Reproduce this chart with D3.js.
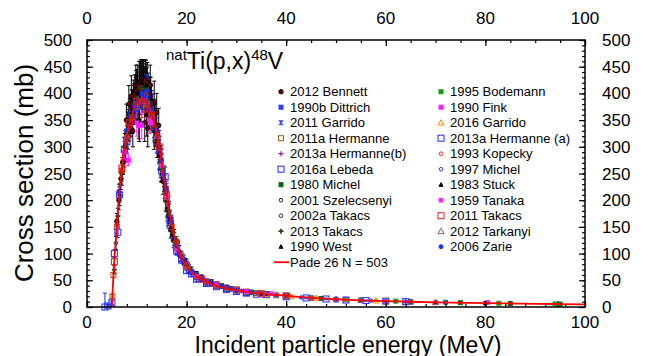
<!DOCTYPE html>
<html>
<head>
<meta charset="utf-8">
<title>natTi(p,x)48V</title>
<script src="https://cdnjs.cloudflare.com/ajax/libs/d3/7.8.5/d3.min.js"></script>
<style>
 body { margin: 0; background: #fff; }
 svg text { font-family: "Liberation Sans", Arial, sans-serif; fill: #000; }
</style>
</head>
<body>
<svg id="chart" width="653" height="356"></svg>
<script>
// ---- data: [energy MeV, cross section mb, error mb] ----
var bennett2012 = [[6.0,160,15],[6.4,200,18],[6.8,240,20],[7.2,270,22],[7.6,300,25],[7.9,350,30],[8.0,325,28],[8.3,340,30],[8.4,380,35],[8.6,360,30],[8.9,395,38],[9.0,375,32],[9.2,330,30],[9.3,390,35],[9.6,400,35],[9.8,415,38],[9.9,405,38],[10.2,415,38],[10.4,350,35],[10.5,420,40],[10.6,420,40],[10.8,425,38],[11.1,425,38],[11.3,425,38],[11.4,420,40],[11.6,345,35],[11.7,425,38],[12.0,410,38],[12.1,420,38],[12.2,335,35],[12.3,400,38],[12.6,395,36],[12.7,415,38],[12.9,380,35],[13.2,365,34],[13.5,385,38],[13.5,350,32],[13.8,330,30],[14.0,365,35],[14.1,310,30],[14.4,340,32],[14.5,285,28],[14.9,260,26],[15.3,235,24],[15.8,200,20],[16.3,170,18],[16.8,145,16],[17.4,125,14],[18.0,110,12],[18.8,95,10],[19.6,82,9],[25,44,4],[30,32,3],[40,21,2],[50,15,1.5],[60,11,1],[70,8.5,1],[80,7,0.8],[94.6,5.5,0.7]];
var dittrich1990b = [[18,110,10],[20,75,7],[22,57,6],[24,48,5],[26,42,4],[28,36,4],[30,31,3],[33,27,3],[36,24,3],[40,20,2],[45,17,2],[50,14,1.5]];
var garrido2011 = [[10,370,20],[12,400,20],[14,320,16],[16,205,10],[18,112,6],[20,75,4],[22,55,3],[25,43,2],[30,30,1.5],[35,23,1.2],[40,19,1],[45,16,1],[50,13,0.8],[55,12,1],[60,10,1],[65,9,0.8]];
var hermanne2011a = [[5.1,20,3],[5.3,60,5],[6,150,12],[7,255,20],[8,315,25],[9,355,28],[10,380,30],[11,385,30],[12,380,30],[13,355,28],[14,315,25],[15,260,20],[16,200,16],[17,150,12],[18,118,9],[19,95,8],[20,78,6],[22,58,5],[24,48,4],[26,41,3],[28,36,3],[30,32,3],[32,29,2.5],[34,26,2],[36,24,2],[38,22,2]];
var hermanne2013b = [[6.5,205,15],[8.5,340,25],[10.5,380,30],[12.5,370,30],[14.5,295,22],[16.5,180,14],[19,92,7],[23,52,4],[27,39,3],[31,30,2.5],[35,25,2],[40,21,2],[45,17,1.5],[50,14,1.2],[55,12.5,1],[60,11,1],[65,10,1]];
var lebeda2016a = [[3.6,0,26],[4.2,2,3],[5.5,100,8],[6.5,210,15],[7.5,295,22],[9,360,25],[10.5,390,28],[12,400,28],[13.5,340,25],[15,255,18],[16.5,165,12],[18,105,8],[20,68,5],[22,52,4],[24,44,3],[26,38,3],[28,33,3],[30,29,2],[32,26,2],[34,24,2]];
var michel1980 = [[12,410,40],[15,260,26],[18,120,12],[22,60,6],[27,40,4],[33,28,3],[40,21,2],[47,16,2],[55,13,1.5],[65,10,1],[75,8,1],[85,6.5,1],[95,5.5,0.8]];
var szelecsenyi2001 = [[6.5,210,20],[7.5,290,28],[8.5,345,34],[9.5,380,38],[10.5,400,40],[11.5,410,40],[12.5,385,38],[13.5,345,34],[14.5,300,30],[15.5,240,24],[16.5,180,18],[18,115,12],[20,78,8],[22,60,6],[25,45,5],[28,37,4],[32,29,3],[36,24,3],[40,21,2]];
var takacs2002a = [[5.8,120,12],[6.7,230,22],[7.7,300,30],[8.8,355,35],[9.8,390,40],[10.8,415,42],[11.8,420,42],[12.8,380,38],[13.8,335,33],[14.8,270,27],[16,205,20],[17,150,15],[18.5,105,10],[20.5,72,7],[23,54,5],[26,41,4],[30,32,3]];
var takacs2013 = [[5.5,70,8],[6.2,170,15],[7.0,250,22],[7.8,305,28],[8.6,350,32],[9.4,380,35],[10.0,395,38],[10.6,410,40],[11.2,405,40],[11.8,400,40],[12.4,385,38],[13.0,370,35],[13.6,340,32],[14.2,310,30],[14.8,275,28],[15.6,225,22],[16.4,175,18],[17.2,140,15],[18.2,112,12],[19.4,88,9],[21.0,68,7],[23.0,54,6],[26.0,42,5],[29.0,34,4]];
var west1990 = [[8.2,330,35],[9.1,365,40],[10.1,400,45],[11.0,420,40],[11.9,415,40],[12.8,390,40],[13.7,345,35],[14.6,290,30],[16.0,200,22],[17.5,130,15]];
var bodemann1995 = [[45,17,2],[52,14,1.5],[62,11,1.2],[72,9,1],[82.7,7,0.8],[94,5.8,0.7]];
var fink1990 = [[8.3,275,10],[10.3,340,12],[13,345,12],[16,205,8],[20,76,4],[60,11,1]];
var garrido2016 = [[20,76,5],[25,44,4],[30,31,3],[36,24,2],[41,20,2],[46,17,2],[52,14,1.5],[58,12,2],[64,10,1.5],[70,9,1.5]];
var hermanne2013a = [[5,8,3],[6.2,140,10],[8,310,22],[10,375,28],[12,385,28],[14,310,22],[15.7,244,18],[16.7,153,12],[19,88,6],[21,62,5],[24,45,3],[28,34,3],[32,27,2],[36,23,2],[40,19,2],[44,17,1.5],[48,15,1.5],[52,13,1],[56,12,1],[60,11,1],[64,10,1]];
var kopecky1993 = [[6,155,10],[7,255,15],[8,320,20],[9,355,22],[10,380,24],[11,385,24],[12,380,24],[13,360,22],[14,325,20],[15,270,18],[16,210,14],[17,155,10],[18,118,8],[19,92,6],[20,77,5],[22,58,4],[24,48,3],[26,41,3],[28,36,2],[30,32,2],[35,25,2],[40,21,1.5],[45,17,1.2]];
var michel1997 = [[10,380,30],[11.5,395,30],[13,355,25],[14.5,290,22],[16,215,16],[17.5,130,10],[19,95,8],[21,66,5],[23,52,4],[26,41,3],[29,34,3],[33,27,2],[38,22,2],[43,18,1.5],[50,14,1.2],[57,12,1],[64,10,1],[72,8.5,0.8]];
var stuck1983 = [[10.5,350,40],[12,360,40],[13.5,330,35],[15,265,30],[17,150,18],[20,80,10],[25,45,6],[30,32,4],[35,25,3]];
var tanaka1959 = [[7.5,290,20],[10.0,345,25],[11,340,25],[12.5,350,25],[15,265,20],[18,110,10],[22,58,5],[26,42,4],[32,29,3],[37,25,2.5],[80.5,8.5,1]];
var takacs2011 = [[5.5,85,8],[7,260,20],[8.5,345,28],[10,385,30],[11.5,395,30],[13,360,28],[14.5,300,24],[16,210,16],[18,118,9],[20,78,6],[23,52,4],[26,41,3],[30,32,3],[35,25,2],[40,21,2]];
var tarkanyi2012 = [[6,150,12],[8,320,25],[10,375,30],[12,385,30],[14,320,25],[16,205,16],[18,115,9],[20,76,6],[23,52,4],[26,42,3],[30,32,3],[35,25,2],[40,21,2],[45,17,1.5],[50,14.5,1.2],[55,13,1.2],[60,11,1],[65,10,1],[70,9,1]];
var zarie2006 = [[6.5,215,15],[8,330,20],[9.5,375,25],[11,400,30],[12,405,30],[13,370,28],[14,330,25],[15,275,20],[16,220,16],[17,160,12],[18,115,9],[19.5,85,7],[21,65,5],[23,51,4],[25,44,3],[27,38,3],[30,30,2]];

// Pade fit
var padeFit = [[4.8,0],[5.0,5],[5.2,40],[5.5,90],[5.8,125],[6.2,180],[6.6,225],[7,260],[7.5,295],[8,320],[8.5,342],[9,358],[9.5,372],[10,381],[10.5,386],[11,388],[11.5,387],[12,382],[12.5,374],[13,362],[13.5,345],[14,324],[14.5,300],[15,270],[15.5,240],[16,210],[16.5,180],[17,155],[17.5,135],[18,117],[18.5,104],[19,92],[20,76],[21,65],[22,57],[23,51],[24,47],[25,43],[27,37],[30,31],[33,27],[36,24],[40,21],[45,17],[50,14.5],[55,12.5],[60,11],[65,9.8],[70,8.8],[75,8],[80,7.2],[85,6.6],[90,6],[95,5.5],[100,5]];

var xTicks = [0, 20, 40, 60, 80, 100];
var yTicks = [0, 50, 100, 150, 200, 250, 300, 350, 400, 450, 500];

// legend entries: name, data, marker shape, colour, filled
var seriesLeft = [
  {name: "2012 Bennett", data: bennett2012, shape: "circle", color: "#7a0000", fill: true},
  {name: "1990b Dittrich", data: dittrich1990b, shape: "square", color: "#2a3cff", fill: true, size: 2},
  {name: "2011 Garrido", data: garrido2011, shape: "bowtie", color: "#1f3cff", fill: true},
  {name: "2011a Hermanne", data: hermanne2011a, shape: "square", color: "#b5541c", fill: false, size: 2.5},
  {name: "2013a Hermanne(b)", data: hermanne2013b, shape: "plus", color: "#8a1a9a", fill: false},
  {name: "2016a Lebeda", data: lebeda2016a, shape: "square", color: "#1a2cff", fill: false, size: 3},
  {name: "1980 Michel", data: michel1980, shape: "square", color: "#0a6a0a", fill: true, size: 2},
  {name: "2001 Szelecsenyi", data: szelecsenyi2001, shape: "circle", color: "#222", fill: false, size: 1.8},
  {name: "2002a Takacs", data: takacs2002a, shape: "circle", color: "#333", fill: false, size: 1.8},
  {name: "2013 Takacs", data: takacs2013, shape: "plus", color: "#3d3a10", fill: false, bold: true},
  {name: "1990 West", data: west1990, shape: "triangle", color: "#000", fill: true, size: 2}
];
var seriesRight = [
  {name: "1995 Bodemann", data: bodemann1995, shape: "square", color: "#12a012", fill: true, size: 2},
  {name: "1990 Fink", data: fink1990, shape: "square", color: "#ff20ff", fill: true, size: 2},
  {name: "2016 Garrido", data: garrido2016, shape: "triangle", color: "#ff8a00", fill: false, size: 3},
  {name: "2013a Hermanne (a)", data: hermanne2013a, shape: "square", color: "#1a2cff", fill: false, size: 3},
  {name: "1993 Kopecky", data: kopecky1993, shape: "circle", color: "#ff2020", fill: false, size: 1.8},
  {name: "1997 Michel", data: michel1997, shape: "circle", color: "#2a3cff", fill: false, size: 1.8},
  {name: "1983 Stuck", data: stuck1983, shape: "triangle", color: "#000", fill: true, size: 2},
  {name: "1959 Tanaka", data: tanaka1959, shape: "square", color: "#ff20ff", fill: true, size: 1.8},
  {name: "2011 Takacs", data: takacs2011, shape: "square", color: "#e02020", fill: false, size: 3},
  {name: "2012 Tarkanyi", data: tarkanyi2012, shape: "triangle", color: "#a04c8c", fill: false, size: 3},
  {name: "2006 Zarie", data: zarie2006, shape: "circle", color: "#1a2cff", fill: true, size: 2}
];

var svg = d3.select("#chart");
var pLeft = 87, pRight = 585, pTop = 40, pBottom = 307;

var x = d3.scaleLinear().domain([0, 100]).range([pLeft, pRight]);
var y = d3.scaleLinear().domain([0, 500]).range([pBottom, pTop]);

// draws one marker at (cx, cy)
function marker(g, s, cx, cy) {
  var r = s.size || 2.2;
  var stroke = s.color, fill = s.fill ? s.color : "none";
  if (s.shape == "circle") {
    g.append("circle").attr("cx", cx).attr("cy", cy).attr("r", r)
      .attr("fill", fill).attr("stroke", s.name == "2012 Bennett" ? "#000" : stroke).attr("stroke-width", 1);
  } else if (s.shape == "square") {
    g.append("rect").attr("x", cx - r).attr("y", cy - r).attr("width", 2 * r).attr("height", 2 * r)
      .attr("fill", fill).attr("stroke", stroke).attr("stroke-width", 1);
  } else if (s.shape == "triangle") {
    g.append("path").attr("d", "M" + cx + "," + (cy - r) + "L" + (cx + r) + "," + (cy + r * 0.8) + "L" + (cx - r) + "," + (cy + r * 0.8) + "Z")
      .attr("fill", fill).attr("stroke", stroke).attr("stroke-width", 1);
  } else if (s.shape == "plus") {
    g.append("path").attr("d", "M" + (cx - 2.5) + "," + cy + "h5M" + cx + "," + (cy - 2.5) + "v5")
      .attr("stroke", stroke).attr("stroke-width", s.bold ? 1.8 : 1.2);
  } else if (s.shape == "bowtie") {
    g.append("path").attr("d", "M" + (cx - 2) + "," + (cy - 2) + "L" + (cx + 2) + "," + (cy - 2) + "L" + (cx - 2) + "," + (cy + 2) + "L" + (cx + 2) + "," + (cy + 2) + "Z")
      .attr("fill", fill).attr("stroke", stroke).attr("stroke-width", 0.8);
  }
}

var allSeries = seriesLeft.concat(seriesRight);
var plot = svg.append("g");

// error bars first, then markers on top
allSeries.forEach(function(s) {
  var dark = ["#333", "#222", "#7a0000", "#3d3a10"].indexOf(s.color) >= 0;
  var eb = plot.append("g").attr("stroke", dark ? "#000" : s.color).attr("stroke-width", 1);
  s.data.forEach(function(d) {
    var cx = x(d[0]), y1 = y(d[1] + d[2]), y0 = y(Math.max(0, d[1] - d[2]));
    eb.append("line").attr("x1", cx).attr("x2", cx).attr("y1", y0).attr("y2", y1);
    eb.append("line").attr("x1", cx - 2).attr("x2", cx + 2).attr("y1", y1).attr("y2", y1);
    eb.append("line").attr("x1", cx - 2).attr("x2", cx + 2).attr("y1", y0).attr("y2", y0);
  });
});
allSeries.forEach(function(s) {
  var g = plot.append("g");
  s.data.forEach(function(d) { marker(g, s, x(d[0]), y(d[1])); });
});

// Pade fit
svg.append("path").datum(padeFit)
  .attr("d", d3.line().x(function(d) { return x(d[0]); }).y(function(d) { return y(d[1]); }).curve(d3.curveMonotoneX))
  .attr("fill", "none").attr("stroke", "#ff0000").attr("stroke-width", 1.8);

// axes: ticks pointing inward
function ticks(axis, scale, vals, size, tr) {
  svg.append("g").attr("transform", tr).call(axis(scale).tickValues(vals).tickSize(-size).tickFormat(""));
}
ticks(d3.axisBottom, x, d3.range(0, 101, 4), 3, "translate(0," + pBottom + ")");
ticks(d3.axisTop, x, d3.range(0, 101, 5), 3, "translate(0," + pTop + ")");
ticks(d3.axisLeft, y, d3.range(0, 501, 10), 3, "translate(" + pLeft + ",0)");
ticks(d3.axisRight, y, d3.range(0, 501, 10), 3, "translate(" + pRight + ",0)");
ticks(d3.axisBottom, x, xTicks, 6, "translate(0," + pBottom + ")");
ticks(d3.axisTop, x, xTicks, 6, "translate(0," + pTop + ")");
ticks(d3.axisLeft, y, yTicks, 6, "translate(" + pLeft + ",0)");
ticks(d3.axisRight, y, yTicks, 6, "translate(" + pRight + ",0)");
svg.selectAll(".domain").remove();
svg.selectAll(".tick line").attr("stroke", "#000").attr("stroke-width", 1.2);
svg.append("rect").attr("x", pLeft).attr("y", pTop).attr("width", pRight - pLeft).attr("height", pBottom - pTop)
  .attr("fill", "none").attr("stroke", "#000").attr("stroke-width", 1.5);

// tick labels
var lab = svg.append("g").style("font-size", "17px");
xTicks.forEach(function(t) {
  lab.append("text").attr("x", x(t)).attr("y", 327.5).attr("text-anchor", "middle").text(t);
  lab.append("text").attr("x", x(t)).attr("y", 24).attr("text-anchor", "middle").text(t);
});
yTicks.forEach(function(t) {
  lab.append("text").attr("x", 72).attr("y", y(t) + 6).attr("text-anchor", "end").text(t);
  lab.append("text").attr("x", 602).attr("y", y(t) + 6).attr("text-anchor", "start").text(t);
});

// axis titles
svg.append("text").attr("x", 348).attr("y", 352.5).attr("text-anchor", "middle").style("font-size", "23px")
  .text("Incident particle energy (MeV)");
svg.append("text").attr("transform", "translate(33,173) rotate(-90)").attr("text-anchor", "middle").style("font-size", "26px")
  .text("Cross section (mb)");

// reaction title
var title = svg.append("text").attr("x", 166).attr("y", 69).style("font-size", "23px");
title.append("tspan").style("font-size", "15px").attr("dy", -9).text("nat");
title.append("tspan").attr("dy", 9).text("Ti(p,x)");
title.append("tspan").style("font-size", "15px").attr("dy", -9).text("48");
title.append("tspan").attr("dy", 9).text("V");

// legend
var leg = svg.append("g").style("font-size", "13px");
function legendColumn(list, mx, tx) {
  list.forEach(function(s, i) {
    var ly = 91.7 + i * 15.5;
    marker(leg, s, mx, ly);
    leg.append("text").attr("x", tx).attr("y", ly + 4.7).text(s.name);
  });
}
legendColumn(seriesLeft, 281, 290);
legendColumn(seriesRight, 441, 450);
var py = 91.7 + 11 * 15.5;
leg.append("line").attr("x1", 274).attr("x2", 289).attr("y1", py).attr("y2", py).attr("stroke", "#ff0000").attr("stroke-width", 1.8);
leg.append("text").attr("x", 290).attr("y", py + 4.7).text("Pade 26 N = 503");
</script>
</body>
</html>
